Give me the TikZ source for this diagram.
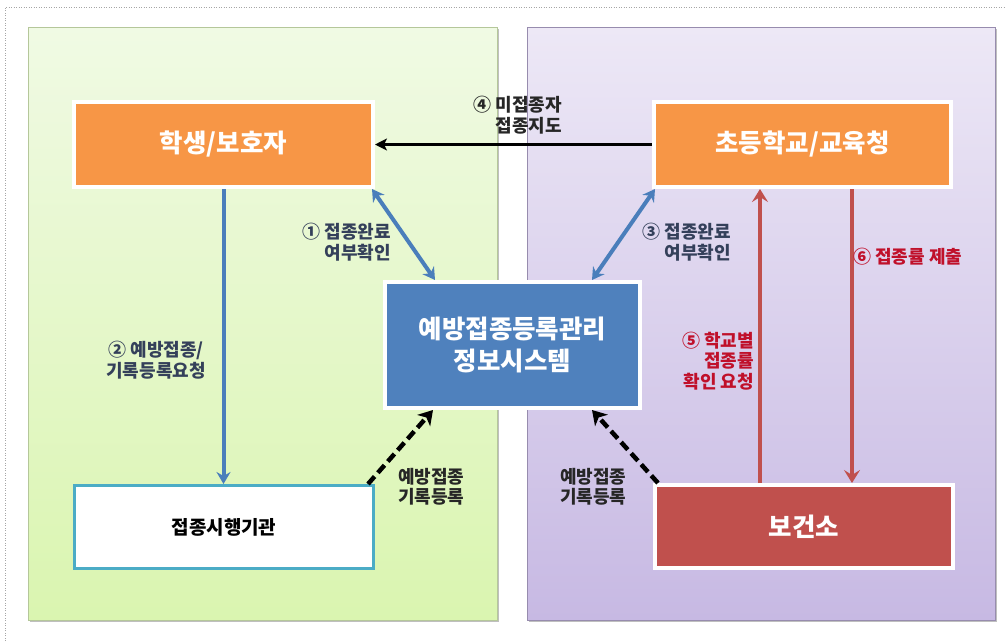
\documentclass[tikz,border=0pt]{standalone}
\usepackage{fontspec}
\setmainfont{Noto Sans CJK KR}
\usetikzlibrary{arrows.meta,shadows}
\definecolor{orangebox}{HTML}{F79646}
\definecolor{bluebox}{HTML}{4F81BD}
\definecolor{redbox}{HTML}{C0504D}
\definecolor{tealline}{HTML}{4BACC6}
\definecolor{arrowblue}{HTML}{4A7EBB}
\definecolor{arrowred}{HTML}{C0504D}
\definecolor{lblblue}{HTML}{34405A}
\definecolor{lblred}{HTML}{C0102A}
\definecolor{lbldark}{HTML}{262626}
\definecolor{greentop}{HTML}{F0FAE4}
\definecolor{greenbot}{HTML}{DAF5B0}
\definecolor{greenedge}{HTML}{B5C79A}
\definecolor{purptop}{HTML}{EDE8F6}
\definecolor{purpbot}{HTML}{C7B9E3}
\definecolor{purpedge}{HTML}{978CAE}
\tikzset{
  box/.style={rectangle, draw=white, line width=4pt, inner sep=0pt, text=white,
    font=\fontsize{25.5}{32}\selectfont\bfseries, align=center,
    drop shadow={shadow xshift=1.5pt, shadow yshift=-1.5pt, opacity=0.35}},
  lbl/.style={inner sep=0pt, font=\fontsize{18}{20.5}\selectfont\bfseries},
  bluearrow/.style={draw=arrowblue, line width=4pt},
  redarrow/.style={draw=arrowred, line width=4pt, -{Stealth[length=13pt,width=16pt,inset=5pt]}},
  blackarrow/.style={draw=black, line width=3pt, -{Stealth[length=12pt,width=12pt,inset=3pt]}},
  dasharrow/.style={draw=black, line width=4.5pt, dash pattern=on 10pt off 5pt, -{Stealth[length=14pt,width=17pt,inset=4pt]}},
  bhead/.style={-{Stealth[length=12pt,width=14pt,inset=4pt]}},
  bboth/.style={{Stealth[length=12pt,width=14pt,inset=4pt]}-{Stealth[length=12pt,width=14pt,inset=4pt]}},
}
\begin{document}
\begin{tikzpicture}[x=1pt,y=-1pt]
\useasboundingbox (0,0) rectangle (1006,641);
% outer dotted frame
\draw[gray!70, line width=0.6pt, dash pattern=on 1pt off 1.5pt] (5,641) -- (5,7) -- (1006,7);
% panels
\fill[black!25] (30,29) rectangle (499,622);
\shade[top color=greentop, bottom color=greenbot] (28,27) rectangle (497,620);
\draw[greenedge, line width=0.7pt] (28,27) rectangle (497,620);
\fill[black!25] (529,29) rectangle (997,622);
\shade[top color=purptop, bottom color=purpbot] (527,27) rectangle (995,620);
\draw[purpedge, line width=0.7pt] (527,27) rectangle (995,620);
% nodes
\node[box, fill=orangebox, minimum width=299pt, minimum height=85pt] (student) at (223.5,144.5) {학생/보호자};
\node[box, fill=orangebox, minimum width=297pt, minimum height=85pt] (school) at (802.5,144.5) {초등학교/교육청};
\node[box, fill=bluebox, minimum width=255pt, minimum height=126pt] (sys) at (512.5,345) {예방접종등록관리\\정보시스템};
\node[box, fill=white, draw=tealline, line width=3pt, text=black, font=\fontsize{19}{22}\selectfont\bfseries, minimum width=299pt, minimum height=83pt] (clinic) at (224,527) {접종시행기관};
\node[box, fill=redbox, minimum width=298pt, minimum height=83pt] (bo) at (804,526.5) {보건소};
% connectors
\draw[blackarrow] (school.west) -- (student.east);
\draw[bluearrow, bboth] ([xshift=-3pt]student.south east) -- ([xshift=52pt]sys.north west);
\draw[bluearrow, bboth] ([xshift=3pt]school.south west) -- ([xshift=-50pt]sys.north east);
\draw[bluearrow, bhead] (student.south) -- (student.south |- clinic.north);
\coordinate (up5) at ([xshift=107pt]bo.north west);
\draw[redarrow] (up5) -- (up5 |- school.south);
\coordinate (dn6) at ([xshift=200pt]school.south west);
\draw[redarrow] (dn6) -- (dn6 |- bo.north);
\draw[dasharrow] ([xshift=-7pt]clinic.north east) -- ([xshift=50pt]sys.south west);
\draw[dasharrow] ([xshift=5pt]bo.north west) -- ([xshift=-50pt]sys.south east);
% labels
\node[lbl, text=lbldark, align=right, anchor=east] (l4) at (562,115) {④ 미접종자\\접종지도};
\node[lbl, text=lblblue, align=right, anchor=east] (l1) at (391,242) {① 접종완료\\여부확인};
\node[lbl, text=lblblue, align=right, anchor=east] (l3) at (731,242) {③ 접종완료\\여부확인};
\node[lbl, text=lblblue, align=center] (l2) at (156,360) {② 예방접종/\\기록등록요청};
\node[lbl, text=lblred, anchor=west] (l6) at (853,257) {⑥ 접종률 제출};
\node[lbl, text=lblred, align=right, anchor=east] (l5) at (754,361) {⑤ 학교별\\접종률\\확인 요청};
\node[lbl, text=lbldark, align=left, anchor=west] (ld1) at (398,487) {예방접종\\기록등록};
\node[lbl, text=lbldark, align=left, anchor=west] (ld2) at (560,487) {예방접종\\기록등록};
\end{tikzpicture}
\end{document}
